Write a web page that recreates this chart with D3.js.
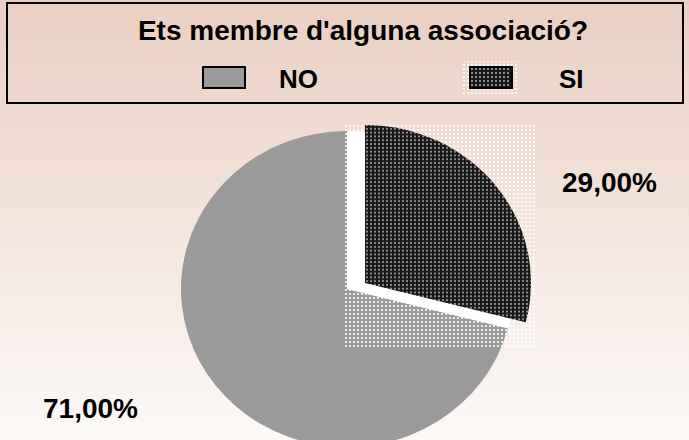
<!DOCTYPE html>
<html>
<head>
<meta charset="utf-8">
<script src="https://cdn.jsdelivr.net/npm/d3@7"></script>
<style>
  html, body { margin: 0; padding: 0; }
  svg { display: block; font-family: "Liberation Sans", Arial, sans-serif; font-weight: bold; }
</style>
</head>
<body>
<svg id="chart"></svg>
<script>
const title = "Ets membre d'alguna associació?";
const categories = ['NO', 'SI'];
const values = [71, 29];
const valueLabels = ['71,00%', '29,00%'];

const width = 689;
const height = 440;

const svg = d3.select('#chart')
    .attr('width', width)
    .attr('height', height);

const defs = svg.append('defs');

// background: pink on top fading to almost white
const bg = defs.append('linearGradient')
    .attr('id', 'bg')
    .attr('x1', 0).attr('y1', 0).attr('x2', 0).attr('y2', 1);
bg.append('stop').attr('offset', '0%').attr('stop-color', '#eacfc2');
bg.append('stop').attr('offset', '100%').attr('stop-color', '#fcf9f7');

// dark dotted fill of the SI slice
const dark = defs.append('pattern')
    .attr('id', 'darkDots')
    .attr('patternUnits', 'userSpaceOnUse')
    .attr('width', 4).attr('height', 4);
dark.append('rect').attr('width', 4).attr('height', 4).attr('fill', '#1a1a1a');
dark.append('rect').attr('x', 1).attr('y', 1).attr('width', 2).attr('height', 2).attr('fill', '#8a8a8a');

// light dots left around the patterned slice
const light = defs.append('pattern')
    .attr('id', 'lightDots')
    .attr('patternUnits', 'userSpaceOnUse')
    .attr('width', 4).attr('height', 4);
light.append('rect').attr('x', 1).attr('y', 1).attr('width', 2).attr('height', 2)
    .attr('fill', '#ffffff').attr('fill-opacity', 0.8);

svg.append('rect')
    .attr('width', width)
    .attr('height', height)
    .attr('fill', 'url(#bg)');

// title box with legend
svg.append('rect')
    .attr('x', 7).attr('y', 3)
    .attr('width', 676).attr('height', 100)
    .attr('fill', 'none')
    .attr('stroke', '#000')
    .attr('stroke-width', 2);

svg.append('text')
    .attr('x', 363).attr('y', 40)
    .attr('text-anchor', 'middle')
    .attr('font-size', 28)
    .text(title);

const fills = { NO: '#9a9a9a', SI: 'url(#darkDots)' };
const legendX = d3.scalePoint().domain(categories).range([203, 470]);

const legend = svg.append('g')
    .selectAll('g')
    .data(categories)
    .join('g')
    .attr('transform', d => `translate(${legendX(d)},67)`);

legend.filter(d => d === 'SI')
    .append('rect')
    .attr('x', -7).attr('y', -6)
    .attr('width', 56).attr('height', 33)
    .attr('fill', 'url(#lightDots)');

legend.append('rect')
    .attr('width', 42).attr('height', 21)
    .attr('fill', d => fills[d])
    .attr('stroke', '#000')
    .attr('stroke-width', 2);

legend.append('text')
    .attr('x', d => d === 'NO' ? 76 : 89)
    .attr('y', 21)
    .attr('font-size', 26)
    .text(d => d);

// pie (slightly wider than tall, like the original)
const cx = 347, cy = 289, rx = 166, ry = 158;
const explode = [18, -6];

const pie = d3.pie()
    .sort(null)
    .startAngle(2 * Math.PI * values[1] / 100)
    .endAngle(2 * Math.PI * values[1] / 100 + 2 * Math.PI);
const arcs = pie(values);

const arc = d3.arc().innerRadius(0).outerRadius(rx);

const noArc = arcs[0];
const siArc = arcs[1];

// NO slice
svg.append('g')
    .attr('transform', `translate(${cx},${cy}) scale(1,${ry / rx})`)
    .append('path')
    .attr('d', arc(noArc))
    .attr('fill', fills.NO);

// light dotted box around the exploded slice
const a1 = siArc.endAngle - 2 * Math.PI;
const boxX0 = cx - 2;
const boxX1 = cx + explode[0] + rx + 4;
const boxY0 = cy + explode[1] - ry;
const boxY1 = cy - ry * Math.cos(a1) + 20;
svg.append('rect')
    .attr('x', boxX0).attr('y', boxY0)
    .attr('width', boxX1 - boxX0).attr('height', boxY1 - boxY0)
    .attr('fill', 'url(#lightDots)');

// white gap left where the slice was pulled out
svg.append('g')
    .attr('transform', `translate(${cx},${cy}) scale(1,${ry / rx})`)
    .append('path')
    .attr('d', arc(siArc))
    .attr('fill', '#ffffff');

// SI slice, exploded
svg.append('g')
    .attr('transform', `translate(${cx + explode[0]},${cy + explode[1]}) scale(1,${ry / rx})`)
    .append('path')
    .attr('d', arc(siArc))
    .attr('fill', fills.SI);

// value labels
const labelPos = { NO: [43, 418], SI: [562, 192] };
svg.append('g')
    .selectAll('text')
    .data(categories)
    .join('text')
    .attr('x', d => labelPos[d][0])
    .attr('y', d => labelPos[d][1])
    .attr('font-size', 28)
    .text((d, i) => valueLabels[i]);
</script>
</body>
</html>
